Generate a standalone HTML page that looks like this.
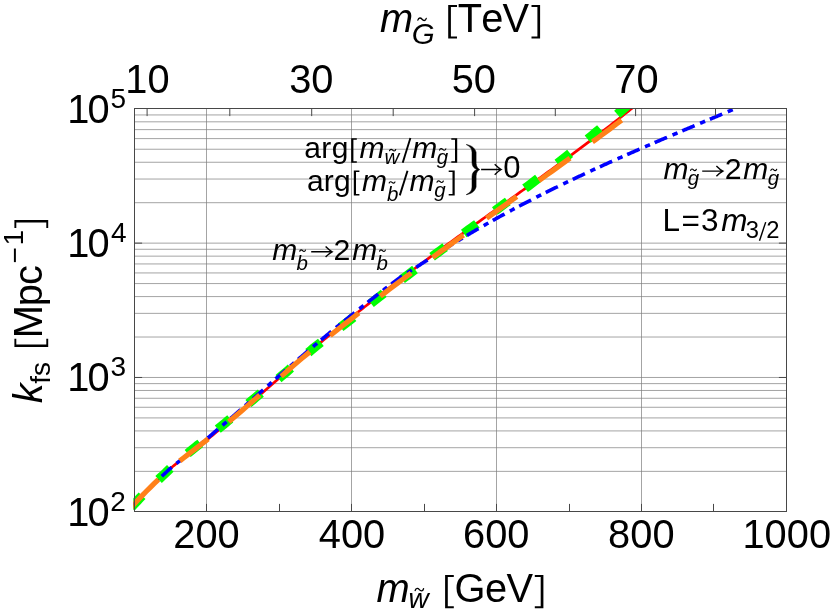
<!DOCTYPE html>
<html><head><meta charset="utf-8"><title>plot</title>
<style>html,body{margin:0;padding:0;background:#fff;}svg{display:block;will-change:transform;}text{font-family:"Liberation Sans",sans-serif;fill:#000;font-kerning:none;white-space:pre;}.i{font-style:italic;}</style>
</head><body>
<svg width="830" height="611" viewBox="0 0 830 611">
<rect x="0" y="0" width="830" height="611" fill="#ffffff"/>
<g stroke="#7c7c7c" stroke-width="0.7" fill="none">
<line x1="134.50" y1="471.36" x2="786.50" y2="471.36"/>
<line x1="134.50" y1="447.71" x2="786.50" y2="447.71"/>
<line x1="134.50" y1="430.92" x2="786.50" y2="430.92"/>
<line x1="134.50" y1="417.91" x2="786.50" y2="417.91"/>
<line x1="134.50" y1="407.27" x2="786.50" y2="407.27"/>
<line x1="134.50" y1="398.28" x2="786.50" y2="398.28"/>
<line x1="134.50" y1="390.48" x2="786.50" y2="390.48"/>
<line x1="134.50" y1="383.61" x2="786.50" y2="383.61"/>
<line x1="134.50" y1="377.47" x2="786.50" y2="377.47"/>
<line x1="134.50" y1="337.03" x2="786.50" y2="337.03"/>
<line x1="134.50" y1="313.37" x2="786.50" y2="313.37"/>
<line x1="134.50" y1="296.59" x2="786.50" y2="296.59"/>
<line x1="134.50" y1="283.57" x2="786.50" y2="283.57"/>
<line x1="134.50" y1="272.94" x2="786.50" y2="272.94"/>
<line x1="134.50" y1="263.94" x2="786.50" y2="263.94"/>
<line x1="134.50" y1="256.15" x2="786.50" y2="256.15"/>
<line x1="134.50" y1="249.28" x2="786.50" y2="249.28"/>
<line x1="134.50" y1="243.13" x2="786.50" y2="243.13"/>
<line x1="134.50" y1="202.69" x2="786.50" y2="202.69"/>
<line x1="134.50" y1="179.04" x2="786.50" y2="179.04"/>
<line x1="134.50" y1="162.26" x2="786.50" y2="162.26"/>
<line x1="134.50" y1="149.24" x2="786.50" y2="149.24"/>
<line x1="134.50" y1="138.60" x2="786.50" y2="138.60"/>
<line x1="134.50" y1="129.61" x2="786.50" y2="129.61"/>
<line x1="134.50" y1="121.82" x2="786.50" y2="121.82"/>
<line x1="134.50" y1="114.95" x2="786.50" y2="114.95"/>
<line x1="206.50" y1="108.50" x2="206.50" y2="511.50"/>
<line x1="351.50" y1="108.50" x2="351.50" y2="511.50"/>
<line x1="496.50" y1="108.50" x2="496.50" y2="511.50"/>
<line x1="641.50" y1="108.50" x2="641.50" y2="511.50"/>
</g>
<clipPath id="c"><rect x="133.30" y="108.20" width="654.40" height="403.60"/></clipPath>
<g clip-path="url(#c)" fill="none">
<path d="M130.46,508.12 L132.46,505.92 L134.46,503.72 L136.46,501.57 L138.46,499.44 L140.46,497.33 L142.46,495.27 L144.46,493.20 L146.46,491.18 L148.46,489.18 L150.46,487.18 L152.46,485.23 L154.46,483.27 L156.46,481.35 L158.46,479.45 L160.46,477.55 L162.46,475.68 L164.46,473.81 L166.46,471.96 L168.46,470.12 L170.46,468.33 L172.46,466.71 L174.46,465.09 L176.46,463.50 L178.46,461.92 L180.46,460.35 L182.46,458.80 L184.46,457.25 L186.46,455.71 L188.46,454.18 L190.46,452.64 L192.46,451.11 L194.46,449.57 L196.46,448.03 L198.46,446.48 L200.46,444.92 L202.46,443.35 L204.46,441.77 L206.46,440.18 L208.46,438.58 L210.46,436.97 L212.46,435.35 L214.46,433.73 L216.46,432.08 L218.46,430.44 L220.46,428.78 L222.46,427.12 L224.46,425.45 L226.46,423.77 L228.46,422.08 L230.46,420.40 L232.46,418.70 L234.46,417.00 L236.46,415.28 L238.46,413.57 L240.46,411.85 L242.46,410.12 L244.46,408.39 L246.46,406.66 L248.46,404.92 L250.46,403.19 L252.46,401.44 L254.46,399.70 L256.46,397.95 L258.46,396.20 L260.46,394.44 L262.46,392.69 L264.46,390.94 L266.46,389.19 L268.46,387.43 L270.46,385.67 L272.46,383.92 L274.46,382.16 L276.46,380.41 L278.46,378.66 L280.46,376.90 L282.46,375.16 L284.46,373.41 L286.46,371.67 L288.46,369.93 L290.46,368.19 L292.46,366.45 L294.46,364.72 L296.46,362.99 L298.46,361.27 L300.46,359.55 L302.46,357.85 L304.46,356.14 L306.46,354.44 L308.46,352.74 L310.46,351.04 L312.46,349.36 L314.46,347.67 L316.46,346.00 L318.46,344.32 L320.46,342.65 L322.46,340.99 L324.46,339.33 L326.46,337.67 L328.46,336.03 L330.46,334.38 L332.46,332.74 L334.46,331.10 L336.46,329.47 L338.46,327.84 L340.46,326.22 L342.46,324.60 L344.46,322.98 L346.46,321.37 L348.46,319.77 L350.46,318.16 L352.46,316.56 L354.46,314.97 L356.46,313.38 L358.46,311.79 L360.46,310.20 L362.46,308.63 L364.46,307.05 L366.46,305.48 L368.46,303.91 L370.46,302.35 L372.46,300.79 L374.46,299.23 L376.46,297.68 L378.46,296.13 L380.46,294.58 L382.46,293.04 L384.46,291.49 L386.46,289.96 L388.46,288.43 L390.46,286.90 L392.46,285.37 L394.46,283.84 L396.46,282.32 L398.46,280.80 L400.46,279.29 L402.46,277.78 L404.46,276.27 L406.46,274.76 L408.46,273.26 L410.46,271.75 L412.46,270.26 L414.46,268.76 L416.46,267.27 L418.46,265.78 L420.46,264.29 L422.46,262.80 L424.46,261.32 L426.46,259.84 L428.46,258.36 L430.46,256.88 L432.46,255.41 L434.46,253.93 L436.46,252.47 L438.46,251.00 L440.46,249.54 L442.46,248.08 L444.46,246.61 L446.46,245.15 L448.46,243.70 L450.46,242.24 L452.46,240.79 L454.46,239.34 L456.46,237.89 L458.46,236.44 L460.46,235.00 L462.46,233.55 L464.46,232.11 L466.46,230.66 L468.46,229.22 L470.46,227.78 L472.46,226.34 L474.46,224.91 L476.46,223.47 L478.46,222.03 L480.46,220.60 L482.46,219.16 L484.46,217.73 L486.46,216.29 L488.46,214.86 L490.46,213.43 L492.46,211.99 L494.46,210.56 L496.46,209.12 L498.46,207.69 L500.46,206.26 L502.46,204.83 L504.46,203.39 L506.46,201.96 L508.46,200.53 L510.46,199.10 L512.46,197.67 L514.46,196.23 L516.46,194.80 L518.46,193.36 L520.46,191.93 L522.46,190.49 L524.46,189.05 L526.46,187.61 L528.46,186.17 L530.46,184.73 L532.46,183.28 L534.46,181.84 L536.46,180.39 L538.46,178.95 L540.46,177.50 L542.46,176.05 L544.46,174.60 L546.46,173.14 L548.46,171.69 L550.46,170.23 L552.46,168.77 L554.46,167.31 L556.46,165.85 L558.46,164.38 L560.46,162.92 L562.46,161.45 L564.46,159.97 L566.46,158.50 L568.46,157.02 L570.46,155.54 L572.46,154.05 L574.46,152.57 L576.46,151.08 L578.46,149.59 L580.46,148.09 L582.46,146.59 L584.46,145.09 L586.46,143.59 L588.46,142.08 L590.46,140.57 L592.46,139.05 L594.46,137.53 L596.46,136.00 L598.46,134.48 L600.46,132.95 L602.46,131.42 L604.46,129.88 L606.46,128.34 L608.46,126.79 L610.46,125.24 L612.46,123.68 L614.46,122.13 L616.46,120.56 L618.46,118.99 L620.46,117.42 L622.46,115.84 L624.46,114.26 L626.46,112.67 L628.46,111.08 L630.46,109.48 L632.46,107.87 L634.46,106.27 L636.46,104.66 L638.46,103.04 L640.46,101.42 L642.46,99.79" stroke="#ff0000" stroke-width="2.7"/>
<path d="M158.59,479.51 L160.94,477.28 L163.31,475.07 L165.67,472.85 L167.98,470.57 L170.30,468.32 M187.68,453.49 L190.17,451.42 L192.66,449.35 L195.18,447.32 L197.74,445.33 L200.29,443.34 M217.78,429.22 L220.27,427.15 L222.76,425.07 L225.25,423.01 L227.75,420.94 L230.25,418.88 M248.44,403.54 L250.91,401.43 L253.37,399.33 L255.84,397.24 L258.35,395.18 L260.85,393.12 M278.54,378.54 L281.04,376.49 L283.55,374.43 L286.02,372.33 L288.44,370.18 L290.86,368.03 M308.37,352.65 L310.82,350.52 L313.27,348.41 L315.76,346.33 L318.31,344.34 L320.87,342.35 M340.62,327.23 L343.21,325.28 L345.81,323.34 L348.36,321.34 L350.88,319.31 L353.41,317.28 M370.92,303.38 L373.47,301.38 L376.02,299.38 L378.58,297.39 L381.14,295.40 L383.69,293.41 M402.05,279.33 L404.63,277.37 L407.21,275.41 L409.79,273.46 L412.38,271.51 L414.96,269.55 M432.09,256.73 L434.69,254.80 L437.30,252.88 L439.90,250.95 L442.51,249.03 L445.12,247.10 M463.75,233.46 L466.37,231.55 L468.99,229.65 L471.61,227.74 L474.24,225.84 L476.86,223.94 M494.74,211.00 L497.36,209.10 L499.99,207.20 L502.59,205.27 L505.18,203.33 L507.77,201.38 M525.04,188.35 L527.63,186.39 L530.21,184.44 L532.79,182.47 L535.36,180.50 L537.93,178.53 M557.41,163.49 L559.97,161.51 L562.52,159.51 L565.08,157.52 L567.60,155.48 L570.11,153.44 M587.66,139.12 L590.16,137.06 L592.65,135.00 L595.14,132.92 L597.62,130.84 L600.11,128.76 M131.03,507.59 L133.21,505.20 L135.40,502.81 L137.62,500.45 L139.84,498.10 L142.10,495.77 M617.20,114.20 L619.66,112.09 L622.11,109.97 L624.56,107.85 L627.00,105.72 L629.44,103.59" stroke="#00ff00" stroke-width="9.4"/>
<path d="M130.46,508.12 L131.46,507.02 L132.46,505.92 L133.46,504.82 L134.46,503.72 L135.46,502.64 L136.46,501.57 L137.46,500.51 L138.46,499.44 L139.46,498.38 L140.46,497.33 L141.46,496.30 L142.46,495.27 L143.46,494.23 L144.46,493.20 L145.46,492.18 L146.46,491.18 L147.46,490.18 L148.46,489.18 L149.46,488.17 L150.46,487.18 L151.46,486.21 L152.46,485.23 L153.46,484.25 L154.46,483.27 L155.46,482.31 L156.46,481.35 L157.46,480.40 L158.46,479.45 L159.46,478.49 L160.46,477.55 L161.46,476.61 L162.46,475.68 L163.46,474.74 L164.46,473.81 L165.46,472.88 L166.46,471.96 L167.46,471.04 L168.46,470.12 L169.46,469.20 L170.46,468.33 L171.46,467.52 L172.46,466.71 L173.46,465.90 L174.46,465.09 L175.46,464.28 L176.46,463.50 L177.46,462.71 L178.46,461.92 L179.46,461.13 L180.46,460.35 L181.46,459.57 L182.46,458.80 L183.46,458.02 L184.46,457.25 L185.46,456.47 L186.46,455.71 L187.46,454.94 L188.46,454.18 L189.46,453.41 L190.46,452.61 L191.46,451.78 L192.46,450.95 L193.46,450.12 L194.46,449.29 L195.46,448.45 L196.46,447.61 L197.46,446.78 L198.46,445.94 L199.46,445.10 L200.46,444.26 L201.46,443.40 L202.46,442.55 L203.46,441.70 L204.46,440.85 L205.46,439.99 L206.46,439.13 L207.46,438.26 L208.46,437.40 L209.46,436.53 L210.46,435.66 L211.46,434.79 L212.46,433.91 L213.46,433.04 L214.46,432.16 L215.46,431.30 L216.46,430.46 L217.46,429.62 L218.46,428.78 L219.46,427.94 L220.46,427.09 L221.46,426.24 L222.46,425.39 L223.46,424.54 L224.46,423.69 L225.46,422.83 L226.46,421.97 L227.46,421.11 L228.46,420.25 L229.46,419.39 L230.46,418.53 L231.46,417.66 L232.46,416.80 L233.46,415.93 L234.46,415.06 L235.46,414.19 L236.46,413.32 L237.46,412.44 L238.46,411.57 L239.46,410.69 L240.46,409.81 L241.46,408.93 L242.46,408.05 L243.46,407.17 L244.46,406.29 L245.46,405.41 L246.46,404.52 L247.46,403.64 L248.46,402.75 L249.46,401.86 L250.46,400.99 L251.46,400.11 L252.46,399.24 L253.46,398.37 L254.46,397.50 L255.46,396.62 L256.46,395.75 L257.46,394.87 L258.46,394.00 L259.46,393.12 L260.46,392.24 L261.46,391.37 L262.46,390.49 L263.46,389.62 L264.46,388.74 L265.46,387.86 L266.46,386.99 L267.46,386.11 L268.46,385.23 L269.46,384.35 L270.46,383.47 L271.46,382.60 L272.46,381.72 L273.46,380.84 L274.46,379.96 L275.46,379.08 L276.46,378.21 L277.46,377.33 L278.46,376.46 L279.46,375.58 L280.46,374.70 L281.46,373.83 L282.46,372.96 L283.46,372.08 L284.46,371.21 L285.46,370.34 L286.46,369.47 L287.46,368.60 L288.46,367.73 L289.46,366.86 L290.46,365.99 L291.46,365.12 L292.46,364.25 L293.46,363.38 L294.46,362.52 L295.46,361.65 L296.46,360.79 L297.46,359.93 L298.46,359.07 L299.46,358.21 L300.46,357.35 L301.46,356.50 L302.46,355.65 L303.46,354.79 L304.46,353.94 L305.46,353.09 L306.46,352.24 L307.46,351.39 L308.46,350.54 L309.46,349.69 L310.46,348.84 L311.46,348.00 L312.46,347.16 L313.46,346.31 L314.46,345.47 L315.46,344.63 L316.46,343.80 L317.46,342.96 L318.46,342.12 L319.46,341.29 L320.46,340.45 L321.46,339.62 L322.46,338.79 L323.46,337.96 L324.46,337.13 L325.46,336.30 L326.46,335.47 L327.46,334.65 L328.46,333.83 L329.46,333.00 L330.46,332.18 L331.46,331.36 L332.46,330.54 L333.46,329.72 L334.46,328.90 L335.46,328.08 L336.46,327.27 L337.46,326.45 L338.46,325.64 L339.46,324.83 L340.46,324.02 L341.46,323.21 L342.46,322.40 L343.46,321.59 L344.46,320.78 L345.46,319.98 L346.46,319.17 L347.46,318.37 L348.46,317.57 L349.46,316.76 L350.46,315.96 L351.46,315.16 L352.46,314.36 L353.46,313.57 L354.46,312.77 L355.46,311.97 L356.46,311.18 L357.46,310.38 L358.46,309.59 L359.46,308.80 L360.46,308.00 L361.46,307.22 L362.46,306.43 L363.46,305.64 L364.46,304.85 L365.46,304.07 L366.46,303.28 L367.46,302.50 L368.46,301.71 L369.46,300.93 L370.46,300.15 L371.46,299.37 L372.46,298.59 L373.46,297.81 L374.46,297.03 L375.46,296.25 L376.46,295.48 L377.46,294.70 L378.46,293.93 L379.46,293.16 L380.46,292.38 L381.46,291.61 L382.46,290.84 L383.46,290.07 L384.46,289.29 L385.46,288.52 L386.46,287.76 L387.46,286.99 L388.46,286.23 L389.46,285.46 L390.46,284.70 L391.46,283.93 L392.46,283.17 L393.46,282.40 L394.46,281.64 L395.46,280.88 L396.46,280.12 L397.46,279.36 L398.46,278.60 L399.46,277.85 L400.46,277.15 L401.46,276.51 L402.46,275.88 L403.46,275.24 L404.46,274.61 L405.46,273.98 L406.46,273.35 L407.46,272.72 L408.46,272.09 L409.46,271.46 L410.46,270.83 L411.46,270.21 L412.46,269.58 L413.46,268.95 L414.46,268.33 L415.46,267.72 L416.46,267.11 L417.46,266.51 L418.46,265.85 L419.46,265.16 L420.46,264.48 L421.46,263.82 L422.46,263.18 L423.46,262.55 L424.46,261.93 L425.46,261.32 L426.46,260.71 L427.46,260.10 L428.46,259.48 L429.46,258.85 L430.46,258.20 L431.46,257.54 L432.46,256.89 L433.46,256.24 L434.46,255.59 L435.46,254.94 L436.46,254.30 L437.46,253.65 L438.46,253.01 L439.46,252.37 L440.46,251.73 L441.46,251.09 L442.46,250.46 L443.46,249.83 L444.46,249.19 L445.46,248.56 L446.46,247.93 L447.46,247.31 L448.46,246.68 L449.46,246.06 L450.46,245.44 L451.46,244.82 L452.46,244.20 L453.46,243.58 L454.46,242.96 L455.46,242.35 L456.46,241.74 L457.46,241.13 L458.46,240.52 L459.46,239.91 L460.46,239.30 L461.46,238.70 L462.46,238.09 L463.46,237.49 L464.46,236.89 L465.46,236.29 L466.46,235.70 L467.46,235.10 L468.46,234.51 L469.46,233.91 L470.46,233.32 L471.46,232.73 L472.46,232.14 L473.46,231.56 L474.46,230.97 L475.46,230.39 L476.46,229.80 L477.46,229.22 L478.46,228.64 L479.46,228.07 L480.46,227.49 L481.46,226.91 L482.46,226.34 L483.46,225.77 L484.46,225.20 L485.46,224.63 L486.46,224.06 L487.46,223.49 L488.46,222.92 L489.46,222.36 L490.46,221.80 L491.46,221.23 L492.46,220.67 L493.46,220.11 L494.46,219.56 L495.46,219.00 L496.46,218.45 L497.46,217.89 L498.46,217.34 L499.46,216.79 L500.46,216.24 L501.46,215.69 L502.46,215.14 L503.46,214.59 L504.46,214.05 L505.46,213.51 L506.46,212.96 L507.46,212.42 L508.46,211.88 L509.46,211.34 L510.46,210.80 L511.46,210.27 L512.46,209.73 L513.46,209.20 L514.46,208.66 L515.46,208.13 L516.46,207.60 L517.46,207.07 L518.46,206.54 L519.46,206.02 L520.46,205.49 L521.46,204.97 L522.46,204.44 L523.46,203.92 L524.46,203.40 L525.46,202.88 L526.46,202.36 L527.46,201.84 L528.46,201.32 L529.46,200.81 L530.46,200.29 L531.46,199.78 L532.46,199.26 L533.46,198.75 L534.46,198.24 L535.46,197.73 L536.46,197.22 L537.46,196.71 L538.46,196.21 L539.46,195.70 L540.46,195.20 L541.46,194.69 L542.46,194.19 L543.46,193.69 L544.46,193.19 L545.46,192.69 L546.46,192.19 L547.46,191.69 L548.46,191.19 L549.46,190.70 L550.46,190.20 L551.46,189.71 L552.46,189.22 L553.46,188.72 L554.46,188.23 L555.46,187.74 L556.46,187.25 L557.46,186.76 L558.46,186.28 L559.46,185.79 L560.46,185.30 L561.46,184.82 L562.46,184.33 L563.46,183.85 L564.46,183.37 L565.46,182.89 L566.46,182.41 L567.46,181.93 L568.46,181.45 L569.46,180.97 L570.46,180.49 L571.46,180.01 L572.46,179.54 L573.46,179.06 L574.46,178.59 L575.46,178.12 L576.46,177.64 L577.46,177.17 L578.46,176.70 L579.46,176.23 L580.46,175.76 L581.46,175.29 L582.46,174.82 L583.46,174.35 L584.46,173.89 L585.46,173.42 L586.46,172.96 L587.46,172.49 L588.46,172.03 L589.46,171.57 L590.46,171.10 L591.46,170.64 L592.46,170.18 L593.46,169.72 L594.46,169.26 L595.46,168.80 L596.46,168.34 L597.46,167.88 L598.46,167.43 L599.46,166.97 L600.46,166.52 L601.46,166.06 L602.46,165.61 L603.46,165.15 L604.46,164.70 L605.46,164.25 L606.46,163.79 L607.46,163.34 L608.46,162.89 L609.46,162.44 L610.46,161.99 L611.46,161.54 L612.46,161.09 L613.46,160.65 L614.46,160.20 L615.46,159.75 L616.46,159.31 L617.46,158.86 L618.46,158.41 L619.46,157.97 L620.46,157.53 L621.46,157.08 L622.46,156.64 L623.46,156.20 L624.46,155.75 L625.46,155.31 L626.46,154.87 L627.46,154.43 L628.46,153.99 L629.46,153.55 L630.46,153.11 L631.46,152.67 L632.46,152.23 L633.46,151.80 L634.46,151.36 L635.46,150.92 L636.46,150.48 L637.46,150.05 L638.46,149.61 L639.46,149.18 L640.46,148.74 L641.46,148.31 L642.46,147.87 L643.46,147.44 L644.46,147.01 L645.46,146.57 L646.46,146.14 L647.46,145.71 L648.46,145.28 L649.46,144.84 L650.46,144.41 L651.46,143.98 L652.46,143.55 L653.46,143.12 L654.46,142.69 L655.46,142.26 L656.46,141.83 L657.46,141.40 L658.46,140.98 L659.46,140.55 L660.46,140.12 L661.46,139.69 L662.46,139.27 L663.46,138.84 L664.46,138.41 L665.46,137.99 L666.46,137.56 L667.46,137.13 L668.46,136.71 L669.46,136.28 L670.46,135.86 L671.46,135.43 L672.46,135.01 L673.46,134.58 L674.46,134.16 L675.46,133.74 L676.46,133.31 L677.46,132.89 L678.46,132.46 L679.46,132.04 L680.46,131.62 L681.46,131.20 L682.46,130.77 L683.46,130.35 L684.46,129.93 L685.46,129.51 L686.46,129.08 L687.46,128.66 L688.46,128.24 L689.46,127.82 L690.46,127.40 L691.46,126.98 L692.46,126.56 L693.46,126.14 L694.46,125.72 L695.46,125.30 L696.46,124.87 L697.46,124.45 L698.46,124.03 L699.46,123.61 L700.46,123.19 L701.46,122.77 L702.46,122.35 L703.46,121.93 L704.46,121.51 L705.46,121.10 L706.46,120.68 L707.46,120.26 L708.46,119.84 L709.46,119.42 L710.46,119.00 L711.46,118.58 L712.46,118.16 L713.46,117.74 L714.46,117.32 L715.46,116.90 L716.46,116.48 L717.46,116.06 L718.46,115.65 L719.46,115.23 L720.46,114.81 L721.46,114.39 L722.46,113.97 L723.46,113.55 L724.46,113.13 L725.46,112.71 L726.46,112.29 L727.46,111.87 L728.46,111.45 L729.46,111.03 L730.46,110.62 L731.46,110.20 L732.46,109.78 L733.46,109.36 L734.46,108.94 L735.46,108.52" stroke="#0000ff" stroke-width="3.6" stroke-dasharray="13.4 6.0 5.4 5.15" stroke-dashoffset="15.18"/>
<path d="M130.46,508.12 L134.44,503.75 L138.42,499.49 L142.39,495.34 L146.37,491.28 L150.35,487.30 L154.32,483.41 L158.30,479.60 M179.80,460.87 L183.84,457.73 L187.89,454.62 L191.93,451.52 L195.97,448.41 L200.01,445.28 L204.06,442.09 L208.10,438.87 M228.80,421.80 L233.23,418.05 L237.66,414.26 L242.09,410.45 L246.51,406.62 L250.94,402.77 L255.37,398.90 L259.80,395.03 M281.10,376.35 L285.20,372.77 L289.30,369.20 L293.40,365.64 L297.50,362.10 L301.60,358.63 L305.70,355.24 L309.80,351.87 M330.20,335.44 L334.29,332.21 L338.37,328.99 L342.46,325.79 L346.54,322.61 L350.63,319.43 L354.71,316.19 L358.80,312.97 M380.30,296.27 L384.71,292.89 L389.13,289.53 L393.54,286.18 L397.96,282.85 L402.37,279.53 L406.79,276.24 L411.20,272.98 M432.70,257.29 L437.10,254.11 L441.50,250.95 L445.90,247.79 L450.30,244.64 L454.70,241.45 L459.10,238.23 L463.50,235.03 M486.60,218.26 L490.91,215.14 L495.23,212.02 L499.54,208.92 L503.86,205.84 L508.17,202.76 L512.49,199.67 L516.80,196.59 M538.90,180.70 L543.34,177.49 L547.79,174.26 L552.23,171.03 L556.67,167.79 L561.11,164.56 L565.56,161.39 L570.00,158.20 M592.40,141.93 L596.57,138.85 L600.74,135.76 L604.91,132.67 L609.09,129.56 L613.26,126.43 L617.43,123.28 L621.60,120.12" stroke="#ff8019" stroke-width="5.2"/>
</g>
<g stroke="#484848" stroke-width="1" fill="none">
<rect x="134.50" y="108.50" width="652.00" height="403.00"/>
<line x1="206.50" y1="511.50" x2="206.50" y2="503.90"/>
<line x1="279.50" y1="511.50" x2="279.50" y2="503.90"/>
<line x1="351.50" y1="511.50" x2="351.50" y2="503.90"/>
<line x1="424.50" y1="511.50" x2="424.50" y2="503.90"/>
<line x1="496.50" y1="511.50" x2="496.50" y2="503.90"/>
<line x1="569.50" y1="511.50" x2="569.50" y2="503.90"/>
<line x1="641.50" y1="511.50" x2="641.50" y2="503.90"/>
<line x1="713.50" y1="511.50" x2="713.50" y2="503.90"/>
<line x1="786.50" y1="511.50" x2="786.50" y2="503.90"/>
<line x1="147.10" y1="108.50" x2="147.10" y2="116.10"/>
<line x1="229.80" y1="108.50" x2="229.80" y2="116.10"/>
<line x1="311.70" y1="108.50" x2="311.70" y2="116.10"/>
<line x1="393.20" y1="108.50" x2="393.20" y2="116.10"/>
<line x1="474.60" y1="108.50" x2="474.60" y2="116.10"/>
<line x1="555.30" y1="108.50" x2="555.30" y2="116.10"/>
<line x1="635.60" y1="108.50" x2="635.60" y2="116.10"/>
<line x1="715.50" y1="108.50" x2="715.50" y2="116.10"/>
<line x1="134.50" y1="377.47" x2="142.10" y2="377.47"/>
<line x1="786.50" y1="377.47" x2="778.90" y2="377.47"/>
<line x1="134.50" y1="243.13" x2="142.10" y2="243.13"/>
<line x1="786.50" y1="243.13" x2="778.90" y2="243.13"/>
</g>
<text x="125.33" y="92.60" font-size="39.8">10</text>
<text x="289.18" y="92.60" font-size="39.8">30</text>
<text x="451.65" y="92.60" font-size="39.8">50</text>
<text x="614.32" y="92.60" font-size="39.8">70</text>
<text x="173.32" y="548.00" font-size="39.8">200</text>
<text x="318.75" y="548.00" font-size="39.8">400</text>
<text x="463.09" y="548.00" font-size="39.8">600</text>
<text x="608.12" y="548.00" font-size="39.8">800</text>
<text x="742.49" y="548.00" font-size="39.8">1000</text>
<text x="67.27" y="525.70" font-size="39.8" letter-spacing="-1.783">10</text>
<text x="110.19" y="510.70" font-size="28.0">2</text>
<text x="67.27" y="391.37" font-size="39.8" letter-spacing="-1.783">10</text>
<text x="110.53" y="376.37" font-size="28.0">3</text>
<text x="67.27" y="257.03" font-size="39.8" letter-spacing="-1.783">10</text>
<text x="110.96" y="242.03" font-size="28.0">4</text>
<text x="67.27" y="122.70" font-size="39.8" letter-spacing="-1.783">10</text>
<text x="110.48" y="107.70" font-size="28.0">5</text>
<text x="379.94" y="31.70" font-size="39.8" class="i">m</text>
<text x="411.75" y="44.00" font-size="29.5" class="i">G</text>
<path d="M417.85,20.15 C418.69,17.15 420.87,17.75 422.05,19.25 S425.41,21.35 426.25,18.35" fill="none" stroke="#000" stroke-width="1.3" stroke-linecap="round"/>
<path d="M448.20,5.00 H457.00 V6.90 H450.90 V36.50 H457.00 V38.40 H448.20 Z" fill="#000"/>
<text x="457.71" y="31.70" font-size="39.8" letter-spacing="-0.862">TeV</text>
<path d="M540.10,5.00 H531.50 V6.90 H537.40 V36.50 H531.50 V38.40 H540.10 Z" fill="#000"/>
<text x="376.54" y="601.60" font-size="39.8" class="i">m</text>
<text x="408.61" y="608.20" font-size="28.0" class="i">w</text>
<path d="M415.15,590.55 C415.99,587.55 418.17,588.15 419.35,589.65 S422.71,591.75 423.55,588.75" fill="none" stroke="#000" stroke-width="1.3" stroke-linecap="round"/>
<path d="M445.10,575.00 H453.80 V576.90 H447.80 V606.30 H453.80 V608.20 H445.10 Z" fill="#000"/>
<text x="454.40" y="601.90" font-size="39.8" letter-spacing="-0.431">GeV</text>
<path d="M543.40,575.00 H534.80 V576.90 H540.70 V606.30 H534.80 V608.20 H543.40 Z" fill="#000"/>
<g transform="translate(41.8,402.6) rotate(-90)">
<text x="-0.66" y="0.00" font-size="39.8" class="i">k</text>
<text x="18.90" y="8.20" font-size="28.0" letter-spacing="-0.071">fs</text>
<path d="M55.50,-27.40 H63.90 V-25.50 H58.20 V4.50 H63.90 V6.40 H55.50 Z" fill="#000"/>
<text x="64.24" y="0.00" font-size="39.8">M</text>
<text x="96.43" y="0.00" font-size="39.8">p</text>
<text x="117.71" y="0.00" font-size="39.8">c</text>
<text x="139.02" y="-18.00" font-size="28.0">−</text>
<text x="157.17" y="-19.30" font-size="28.0">1</text>
<path d="M182.70,-27.40 H174.60 V-25.50 H180.00 V4.50 H174.60 V6.40 H182.70 Z" fill="#000"/>
</g>
<text x="304.13" y="158.30" font-size="30.0" letter-spacing="0.424">arg</text>
<path d="M351.20,138.20 H356.80 V139.70 H353.40 V161.30 H356.80 V162.80 H351.20 Z" fill="#000"/>
<text x="359.60" y="158.30" font-size="30.0" class="i">m</text>
<text x="384.38" y="164.40" font-size="20.5" class="i">w</text>
<path d="M389.57,150.76 C390.19,148.73 391.79,149.14 392.65,150.15 S395.11,151.57 395.73,149.54" fill="none" stroke="#000" stroke-width="1.15" stroke-linecap="round"/>
<path d="M402.70,162.80 L410.40,138.00" stroke="#000" stroke-width="1.9" fill="none"/>
<text x="412.30" y="158.30" font-size="30.0" class="i">m</text>
<text x="436.76" y="164.40" font-size="20.5" class="i">g</text>
<path d="M439.57,150.06 C440.20,148.03 441.82,148.44 442.70,149.45 S445.20,150.87 445.82,148.84" fill="none" stroke="#000" stroke-width="1.15" stroke-linecap="round"/>
<path d="M457.20,138.20 H451.30 V139.70 H455.00 V161.30 H451.30 V162.80 H457.20 Z" fill="#000"/>
<text x="306.93" y="190.50" font-size="30.0" letter-spacing="0.224">arg</text>
<path d="M353.80,170.40 H359.40 V171.90 H356.00 V193.90 H359.40 V195.40 H353.80 Z" fill="#000"/>
<text x="362.10" y="190.50" font-size="30.0" class="i">m</text>
<text x="386.91" y="201.20" font-size="20.5" class="i">b</text>
<path d="M389.18,182.97 C389.76,181.24 391.28,181.59 392.10,182.45 S394.44,183.66 395.03,181.93" fill="none" stroke="#000" stroke-width="1.15" stroke-linecap="round"/>
<path d="M399.80,195.40 L407.50,170.70" stroke="#000" stroke-width="1.9" fill="none"/>
<text x="409.60" y="190.50" font-size="30.0" class="i">m</text>
<text x="434.26" y="196.60" font-size="20.5" class="i">g</text>
<path d="M436.97,182.26 C437.61,180.23 439.26,180.64 440.15,181.65 S442.69,183.07 443.32,181.04" fill="none" stroke="#000" stroke-width="1.15" stroke-linecap="round"/>
<path d="M454.70,170.40 H448.70 V171.90 H452.50 V193.90 H448.70 V195.40 H454.70 Z" fill="#000"/>
<path d="M466.2,144.50 C469.6,145.20 474.4,146.50 476.1,152.20 L476.1,163.30 C476.4,166.50 477.6,168.60 479.8,169.60 C477.6,170.60 476.4,172.70 476.1,175.90 L476.1,187.00 C474.4,192.70 469.6,194.00 466.2,194.70 C469.0,193.10 472.0,191.40 472.0,187.00 L472.0,176.60 C472.0,173.00 474.0,170.60 477.0,169.60 C474.0,168.60 472.0,166.20 472.0,162.60 L472.0,152.20 C472.0,147.80 469.0,146.10 466.2,144.50 Z" fill="#000" stroke="#000" stroke-width="0.5" stroke-linejoin="round"/>
<path d="M481.10,169.50 L500.60,169.50 M494.70,164.30 Q498.27,167.94 501.20,169.50 Q498.27,171.06 494.70,174.70" fill="none" stroke="#000" stroke-width="1.4" stroke-linecap="butt" stroke-linejoin="miter"/>
<text x="503.19" y="177.80" font-size="31">0</text>
<text x="272.30" y="259.50" font-size="30.0" class="i">m</text>
<text x="296.61" y="269.90" font-size="20.5" class="i">b</text>
<path d="M299.77,251.26 C300.34,249.23 301.81,249.64 302.60,250.65 S304.86,252.07 305.43,250.04" fill="none" stroke="#000" stroke-width="1.15" stroke-linecap="round"/>
<path d="M311.20,251.80 L331.50,251.80 M325.60,246.60 Q329.18,250.24 332.10,251.80 Q329.18,253.36 325.60,257.00" fill="none" stroke="#000" stroke-width="1.4" stroke-linecap="butt" stroke-linejoin="miter"/>
<text x="333.48" y="259.50" font-size="30.3">2</text>
<text x="352.20" y="259.50" font-size="30.0" class="i">m</text>
<text x="376.61" y="269.90" font-size="20.5" class="i">b</text>
<path d="M379.57,251.26 C380.15,249.23 381.64,249.64 382.45,250.65 S384.75,252.07 385.32,250.04" fill="none" stroke="#000" stroke-width="1.15" stroke-linecap="round"/>
<text x="663.40" y="178.60" font-size="30.0" class="i">m</text>
<text x="687.66" y="185.30" font-size="20.5" class="i">g</text>
<path d="M690.58,170.46 C691.15,168.43 692.64,168.84 693.45,169.85 S695.75,171.27 696.32,169.24" fill="none" stroke="#000" stroke-width="1.15" stroke-linecap="round"/>
<path d="M702.20,171.10 L722.30,171.10 M716.40,165.90 Q719.98,169.54 722.90,171.10 Q719.98,172.66 716.40,176.30" fill="none" stroke="#000" stroke-width="1.4" stroke-linecap="butt" stroke-linejoin="miter"/>
<text x="724.78" y="178.60" font-size="30.3">2</text>
<text x="743.20" y="178.60" font-size="30.0" class="i">m</text>
<text x="767.86" y="185.30" font-size="20.5" class="i">g</text>
<path d="M770.88,170.46 C771.46,168.43 772.98,168.84 773.80,169.85 S776.14,171.27 776.72,169.24" fill="none" stroke="#000" stroke-width="1.15" stroke-linecap="round"/>
<text x="662.52" y="230.90" font-size="31.5">L</text>
<text x="681.46" y="230.90" font-size="31.5">=</text>
<text x="701.00" y="230.90" font-size="31.5">3</text>
<text x="721.28" y="230.90" font-size="31.5" class="i">m</text>
<text x="745.69" y="237.50" font-size="23.8">3</text>
<path d="M759.50,240.70 L765.70,222.10" stroke="#000" stroke-width="1.4" fill="none"/>
<text x="766.20" y="237.50" font-size="23.8">2</text>
</svg></body></html>
